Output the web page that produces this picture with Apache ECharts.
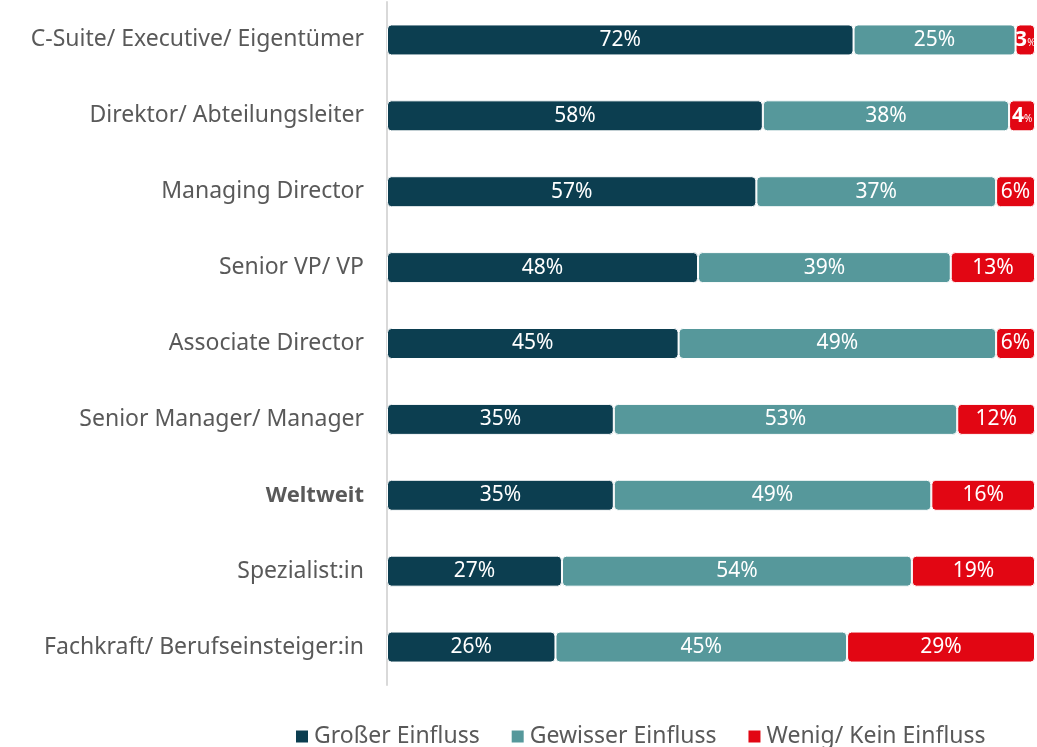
<!DOCTYPE html>
<html>
<head>
<meta charset="utf-8">
<script src="https://cdn.jsdelivr.net/npm/echarts@6/dist/echarts.min.js"></script>
<style>
  html, body { margin: 0; padding: 0; background: #fff; }
  #chart { width: 1037px; height: 747px; }
</style>
</head>
<body>
<div id="chart"></div>
<script>
// Kategorien von oben nach unten
const categories = [
  'C-Suite/ Executive/ Eigentümer',
  'Direktor/ Abteilungsleiter',
  'Managing Director',
  'Senior VP/ VP',
  'Associate Director',
  'Senior Manager/ Manager',
  'Weltweit',
  'Spezialist:in',
  'Fachkraft/ Berufseinsteiger:in'
]
const seriesNames = ['Großer Einfluss', 'Gewisser Einfluss', 'Wenig/ Kein Einfluss']
const grosser = [72, 58, 57, 48, 45, 35, 35, 27, 26]
const gewisser = [25, 38, 37, 39, 49, 53, 49, 54, 45]
const wenig = [3, 4, 6, 13, 6, 12, 16, 19, 29]

const colors = ['#0c3e50', '#56989b', '#e20613']
const FONT = "'Noto Sans', 'Open Sans', sans-serif"

const chart = echarts.init(document.getElementById('chart'))

const makeSeries = (name, data, color) => ({
  name,
  type: 'bar',
  stack: 'total',
  barWidth: 31,
  data,
  itemStyle: { color, borderRadius: 4, borderColor: '#fff', borderWidth: 1 },
  label: {
    show: true,
    position: 'inside',
    color: '#fff',
    fontFamily: FONT,
    fontSize: 21,
    // kleine Werte: Zahl fett, % klein
    formatter: ({ value }) => (value < 5 ? `{n|${value}}{p|%}` : `${value}%`),
    rich: {
      n: { color: '#fff', fontSize: 21, fontWeight: 'bold', fontFamily: FONT },
      p: { color: '#fff', fontSize: 10, fontFamily: FONT, padding: [6, 0, 0, 0] }
    }
  }
})

chart.setOption({
  textStyle: { fontFamily: FONT },
  animation: false,
  color: colors,
  grid: { left: 387, right: 2, top: 2, height: 683 },
  legend: {
    top: 720,
    left: 289,
    itemWidth: 14,
    itemHeight: 14,
    itemGap: 30,
    icon: 'rect',
    textStyle: { color: '#595959', fontSize: 23, fontFamily: FONT },
    data: seriesNames
  },
  xAxis: { type: 'value', min: 0, max: 100, show: false },
  yAxis: {
    type: 'category',
    inverse: true,
    data: categories,
    axisTick: { show: false },
    axisLine: { show: true, lineStyle: { color: '#d9d9d9', width: 2 } },
    axisLabel: {
      margin: 23,
      color: '#595959',
      fontSize: 23,
      fontFamily: FONT,
      formatter: v => (v === 'Weltweit' ? `{b|${v}}` : v),
      rich: { b: { fontWeight: 'bold', color: '#595959', fontSize: 22, fontFamily: FONT } }
    }
  },
  series: [
    makeSeries(seriesNames[0], grosser, colors[0]),
    makeSeries(seriesNames[1], gewisser, colors[1]),
    makeSeries(seriesNames[2], wenig, colors[2])
  ]
})
</script>
</body>
</html>
